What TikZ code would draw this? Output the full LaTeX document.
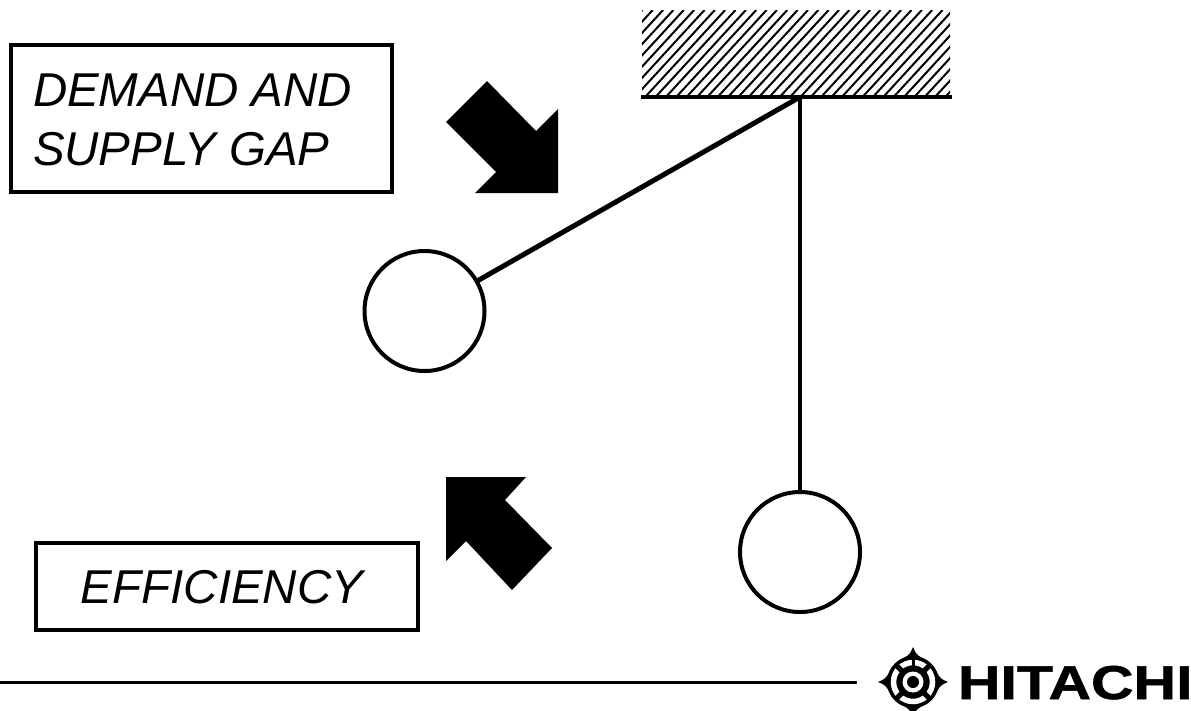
\documentclass[tikz,border=0pt]{standalone}
\usepackage{fontspec}
\setmainfont{Liberation Sans}
\newfontfamily\brandfont[BoldFeatures={FakeBold=1.2,FakeStretch=1.24}]{Liberation Sans}
\tikzset{
  x=1pt,y=-1pt,
  px/.style={inner sep=0pt,outer sep=0pt},
  labelbox/.style={draw=black,line width=4pt,px,fill=white},
  ball/.style={draw=black,line width=4pt,circle,px,minimum size=120pt,fill=white},
  rod/.style={draw=black,line width=4pt},
  bigarrow/.style={fill=black,draw=none},
  boxtext/.style={px,font=\fontsize{47.5}{59}\selectfont\itshape,align=left}
}
\begin{document}
\begin{tikzpicture}
\useasboundingbox (0,0) rectangle (1191,710);
% hatched ceiling
\begin{scope}
\clip (642,10) rectangle (950,96);
\foreach \i in {0,...,40}{
  \draw[line width=2pt,black] ({642-90+\i*10.35},97) -- ({642-90+\i*10.35+87*0.92},10);
}
\end{scope}
\draw[line width=4pt,black] (641,97) -- (952,97);
\coordinate (pivot) at (800,97);
% balls and rods
\node[ball] (ballA) at (424.5,311) {};
\node[ball] (ballB) at (800,552) {};
\draw[rod,line width=5pt] (pivot) -- (ballA);
\draw[rod] (pivot) -- (ballB);
% boxes
\node[labelbox,minimum width=381pt,minimum height=147pt] (demandbox) at (201.5,118) {};
\node[boxtext,anchor=west] (demandtext) at (33,120) {DEMAND AND\\SUPPLY GAP};
\node[labelbox,minimum width=382pt,minimum height=87pt] (effbox) at (227,586.5) {};
\node[boxtext,anchor=base] (efftext) at (222,603) {EFFICIENCY};
% arrows
\fill[bigarrow] (487,81) -- (446,122) -- (496,172) -- (475,193) -- (558,193) -- (558,109) -- (536,131) -- cycle;
\fill[bigarrow] (446,477) -- (526,477) -- (505,500) -- (552,548) -- (512,590) -- (466,541) -- (446,561) -- cycle;
% footer
\coordinate (ruleL) at (0,682.5);
\coordinate (ruleR) at (857,682.5);
\draw[line width=3pt,black] (ruleL) -- (ruleR);
\begin{scope}
\clip (870,640) rectangle (955,710);
\node[circle,fill=black,minimum size=52pt,px] (logo) at (913,682) {};
\foreach \a in {0,90,180,270}{
  \fill[black,shift={(913,682)},rotate=\a] (24,-9) .. controls (28,-3) .. (35,0) .. controls (28,3) .. (24,9) -- cycle;
}
\draw[white,line width=5.5pt] (logo.center) circle[radius=19.5];
\foreach \a in {45,135,225,315}{
  \draw[black,line width=5pt] (logo.center) -- ++(\a:24);
}
\draw[black,line width=3pt] (logo.center) -- ++(0,-24);
\fill[black] (logo.center) circle[radius=15];
\fill[white] (logo.center) circle[radius=10.5];
\fill[black] (logo.center) circle[radius=6];
\end{scope}
\node[px,anchor=base west,font=\brandfont\fontsize{47.5}{50}\selectfont\bfseries,text=black] (brand) at (958,699) {HITACHI};
\end{tikzpicture}
\end{document}
